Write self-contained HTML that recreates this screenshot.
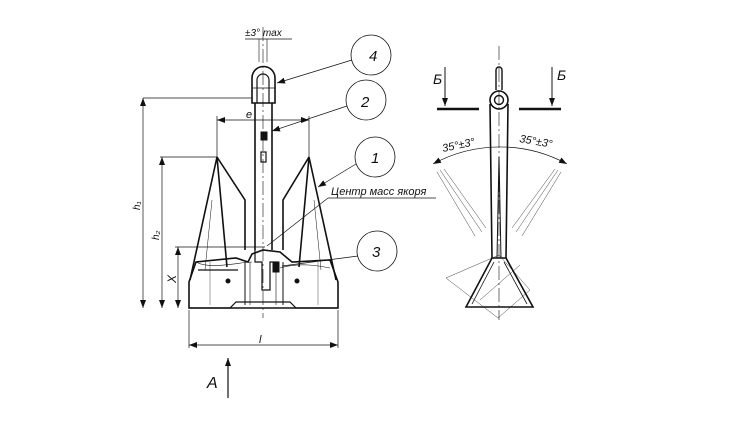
<!DOCTYPE html>
<html><head><meta charset="utf-8"><style>
html,body{margin:0;padding:0;background:#fff;}
svg{display:block;}
text{font-family:"Liberation Sans","DejaVu Sans",sans-serif;font-style:italic;fill:#111;}
</style></head><body>
<svg width="735" height="431" viewBox="0 0 735 431" xmlns="http://www.w3.org/2000/svg">
<defs>
<marker id="ar" markerWidth="8" markerHeight="6" refX="8" refY="3" orient="auto" markerUnits="userSpaceOnUse"><path d="M0,0 L8,3 L0,6 z" fill="#111"/></marker>
<marker id="al" markerWidth="8" markerHeight="6" refX="0" refY="3" orient="auto" markerUnits="userSpaceOnUse"><path d="M8,0 L0,3 L8,6 z" fill="#111"/></marker>
</defs>
<g stroke="#111" fill="none" stroke-width="1">
<!-- centerline left -->
<line x1="263" y1="27" x2="263" y2="318" stroke-width="0.6" stroke-dasharray="14,3,2,3"/>
<!-- +-3 max -->
<line x1="245" y1="39" x2="292" y2="39" stroke-width="0.7"/>
<line x1="259" y1="39" x2="259" y2="62" stroke-width="0.6"/>
<line x1="267" y1="39" x2="267" y2="62" stroke-width="0.6"/>
<!-- shackle -->
<path d="M252,103 L252,78 A11.5,11.5 0 0 1 275,78 L275,103 Z" stroke-width="1.6"/>
<path d="M257,103 L257,80 A6,6 0 0 1 269,80 L269,103" stroke-width="1.2"/>
<line x1="252" y1="88" x2="275" y2="88" stroke-width="0.8"/>
<!-- shank -->
<path d="M255,103 L255,250 M272,103 L272,250" stroke-width="1.6"/>
<rect x="261" y="132" width="6" height="8" fill="#111"/>
<rect x="261" y="152" width="5" height="10" stroke-width="1.2"/>
<!-- h1 -->
<line x1="143" y1="98" x2="252" y2="98" stroke-width="0.7"/>
<line x1="143" y1="98" x2="143" y2="308" stroke-width="0.7" marker-start="url(#al)" marker-end="url(#ar)"/>
<!-- h2 -->
<line x1="160" y1="157" x2="217" y2="157" stroke-width="0.7"/>
<line x1="162" y1="157" x2="162" y2="308" stroke-width="0.7" marker-start="url(#al)" marker-end="url(#ar)"/>
<!-- X -->
<line x1="175" y1="247" x2="265" y2="247" stroke-width="0.7"/>
<line x1="178" y1="247" x2="178" y2="308" stroke-width="0.7" marker-start="url(#al)" marker-end="url(#ar)"/>
<!-- e -->
<line x1="217" y1="116" x2="217" y2="157" stroke-width="0.7"/>
<line x1="309" y1="116" x2="309" y2="157" stroke-width="0.7"/>
<line x1="217" y1="120" x2="309" y2="120" stroke-width="0.7" marker-start="url(#al)" marker-end="url(#ar)"/>
<!-- flukes -->
<path d="M217,157 L190,280 M217,157 L227,267 M217,157 L245,200 L245,250" stroke-width="1.6"/>
<path d="M309,157 L336,280 M309,157 L299,267 M309,157 L283,200 L283,250" stroke-width="1.6"/>
<path d="M212,200 L205,270 M314,200 L321,270" stroke-width="0.5"/>
<!-- crown -->
<path d="M189,308 L189,282 L196,262 L236,258 L248,262 L252,254 L263,250 L280,252 L292,262 L330,260 L338,282 L338,308 Z" stroke-width="1.6"/>
<path d="M196,262 C210,270 240,262 252,262 M280,268 C300,262 320,266 330,268" stroke-width="0.6"/>
<line x1="198" y1="270" x2="238" y2="270" stroke-width="1.2"/>
<path d="M189,308 L230,308 L236,302 L290,302 L296,308 L338,308" stroke-width="1.2"/>
<line x1="245" y1="262" x2="245" y2="305" stroke-width="1"/>
<line x1="283" y1="262" x2="283" y2="305" stroke-width="1"/>
<line x1="250" y1="262" x2="250" y2="305" stroke-width="0.6"/>
<line x1="276" y1="262" x2="276" y2="305" stroke-width="0.6"/>
<path d="M255,250 L255,262 L262,262 L262,290 L270,290 L270,262 L278,262" stroke-width="1.2"/>
<rect x="273" y="262" width="6" height="10" fill="#111"/>
<circle cx="228" cy="281" r="2" fill="#111"/>
<circle cx="297" cy="281" r="2" fill="#111"/>
<line x1="210" y1="262" x2="210" y2="305" stroke-width="0.4"/>
<line x1="318" y1="262" x2="318" y2="305" stroke-width="0.4"/>
<!-- l -->
<line x1="189" y1="310" x2="189" y2="348" stroke-width="0.7"/>
<line x1="338" y1="310" x2="338" y2="348" stroke-width="0.7"/>
<line x1="189" y1="345" x2="338" y2="345" stroke-width="0.7" marker-start="url(#al)" marker-end="url(#ar)"/>
<!-- A arrow -->
<line x1="228" y1="398" x2="228" y2="358" stroke-width="1.2" marker-end="url(#ar)"/>
<!-- balloons -->
<circle cx="371" cy="55" r="20" stroke-width="0.8"/>
<circle cx="366" cy="100" r="20" stroke-width="0.8"/>
<circle cx="375" cy="157" r="20" stroke-width="0.8"/>
<circle cx="377" cy="251" r="20" stroke-width="0.8"/>
<line x1="352" y1="60" x2="277" y2="83" stroke-width="0.7" marker-end="url(#ar)"/>
<line x1="347" y1="106" x2="272" y2="131" stroke-width="0.7" marker-end="url(#ar)"/>
<line x1="356" y1="164" x2="318" y2="187" stroke-width="0.7" marker-end="url(#ar)"/>
<line x1="328" y1="198" x2="436" y2="198" stroke-width="0.7"/>
<line x1="328" y1="198" x2="267" y2="246" stroke-width="0.7"/>
<line x1="358" y1="256" x2="282" y2="266" stroke-width="0.7"/>

<!-- right view -->
<line x1="499" y1="46" x2="499" y2="320" stroke-width="0.6" stroke-dasharray="14,3,2,3"/>
<path d="M496,90 L496,70 A3,3 0 0 1 502,70 L502,90" stroke-width="1.4"/>
<circle cx="499" cy="100" r="9" stroke-width="1.6"/>
<circle cx="499" cy="100" r="4.5" stroke-width="1.4"/>
<path d="M490,104 L492,258 M508,104 L506,258" stroke-width="1.6"/>
<path d="M497,258 L499,157 L501,258" stroke-width="1"/>
<line x1="445" y1="67" x2="445" y2="106" stroke-width="1" marker-end="url(#ar)"/>
<line x1="552" y1="67" x2="552" y2="106" stroke-width="1" marker-end="url(#ar)"/>
<line x1="437" y1="109" x2="479" y2="109" stroke-width="2.4"/>
<line x1="519" y1="109" x2="561" y2="109" stroke-width="2.4"/>
<path d="M433,164 A140,140 0 0 1 567,164" stroke-width="0.7" marker-start="url(#al)" marker-end="url(#ar)"/>
<path d="M440,170 L482,232 M437,172 L475,236 M444,169 L486,228 M558,170 L516,232 M561,172 L522,236 M555,169 L512,228" stroke-width="0.4"/>
<path d="M466,307 L492,258 L506,258 L533,307 Z" stroke-width="1.6"/>
<path d="M472,304 L494,262 M527,304 L504,262" stroke-width="0.8"/>
<path d="M446,278 L499,255 L530,290 L498,318 Z M480,300 L520,265" stroke-width="0.4"/>
</g>
<g font-size="13">
<text x="369" y="61" font-size="15">4</text>
<text x="361" y="107" font-size="15">2</text>
<text x="371" y="163" font-size="15">1</text>
<text x="372" y="257" font-size="15">3</text>
<text x="245" y="36" font-size="10">±3° max</text>
<text x="246" y="118" font-size="11">e</text>
<text x="331" y="195" font-size="11">Центр масс якоря</text>
<text x="259" y="343" font-size="11">l</text>
<text x="207" y="388" font-size="16">A</text>
<text x="140" y="210" font-size="10" transform="rotate(-90 140 210)">h₁</text>
<text x="159" y="240" font-size="10" transform="rotate(-90 159 240)">h₂</text>
<text x="176" y="283" font-size="12" transform="rotate(-90 176 283)">X</text>
<text x="433" y="84" font-size="14">Б</text>
<text x="557" y="80" font-size="14">Б</text>
<text x="443" y="152" font-size="11" transform="rotate(-12 443 152)">35°±3°</text>
<text x="519" y="142" font-size="11" transform="rotate(10 519 142)">35°±3°</text>
<text x="406" y="441" font-size="15">Б-Б</text>
</g>
</svg>
</body></html>
